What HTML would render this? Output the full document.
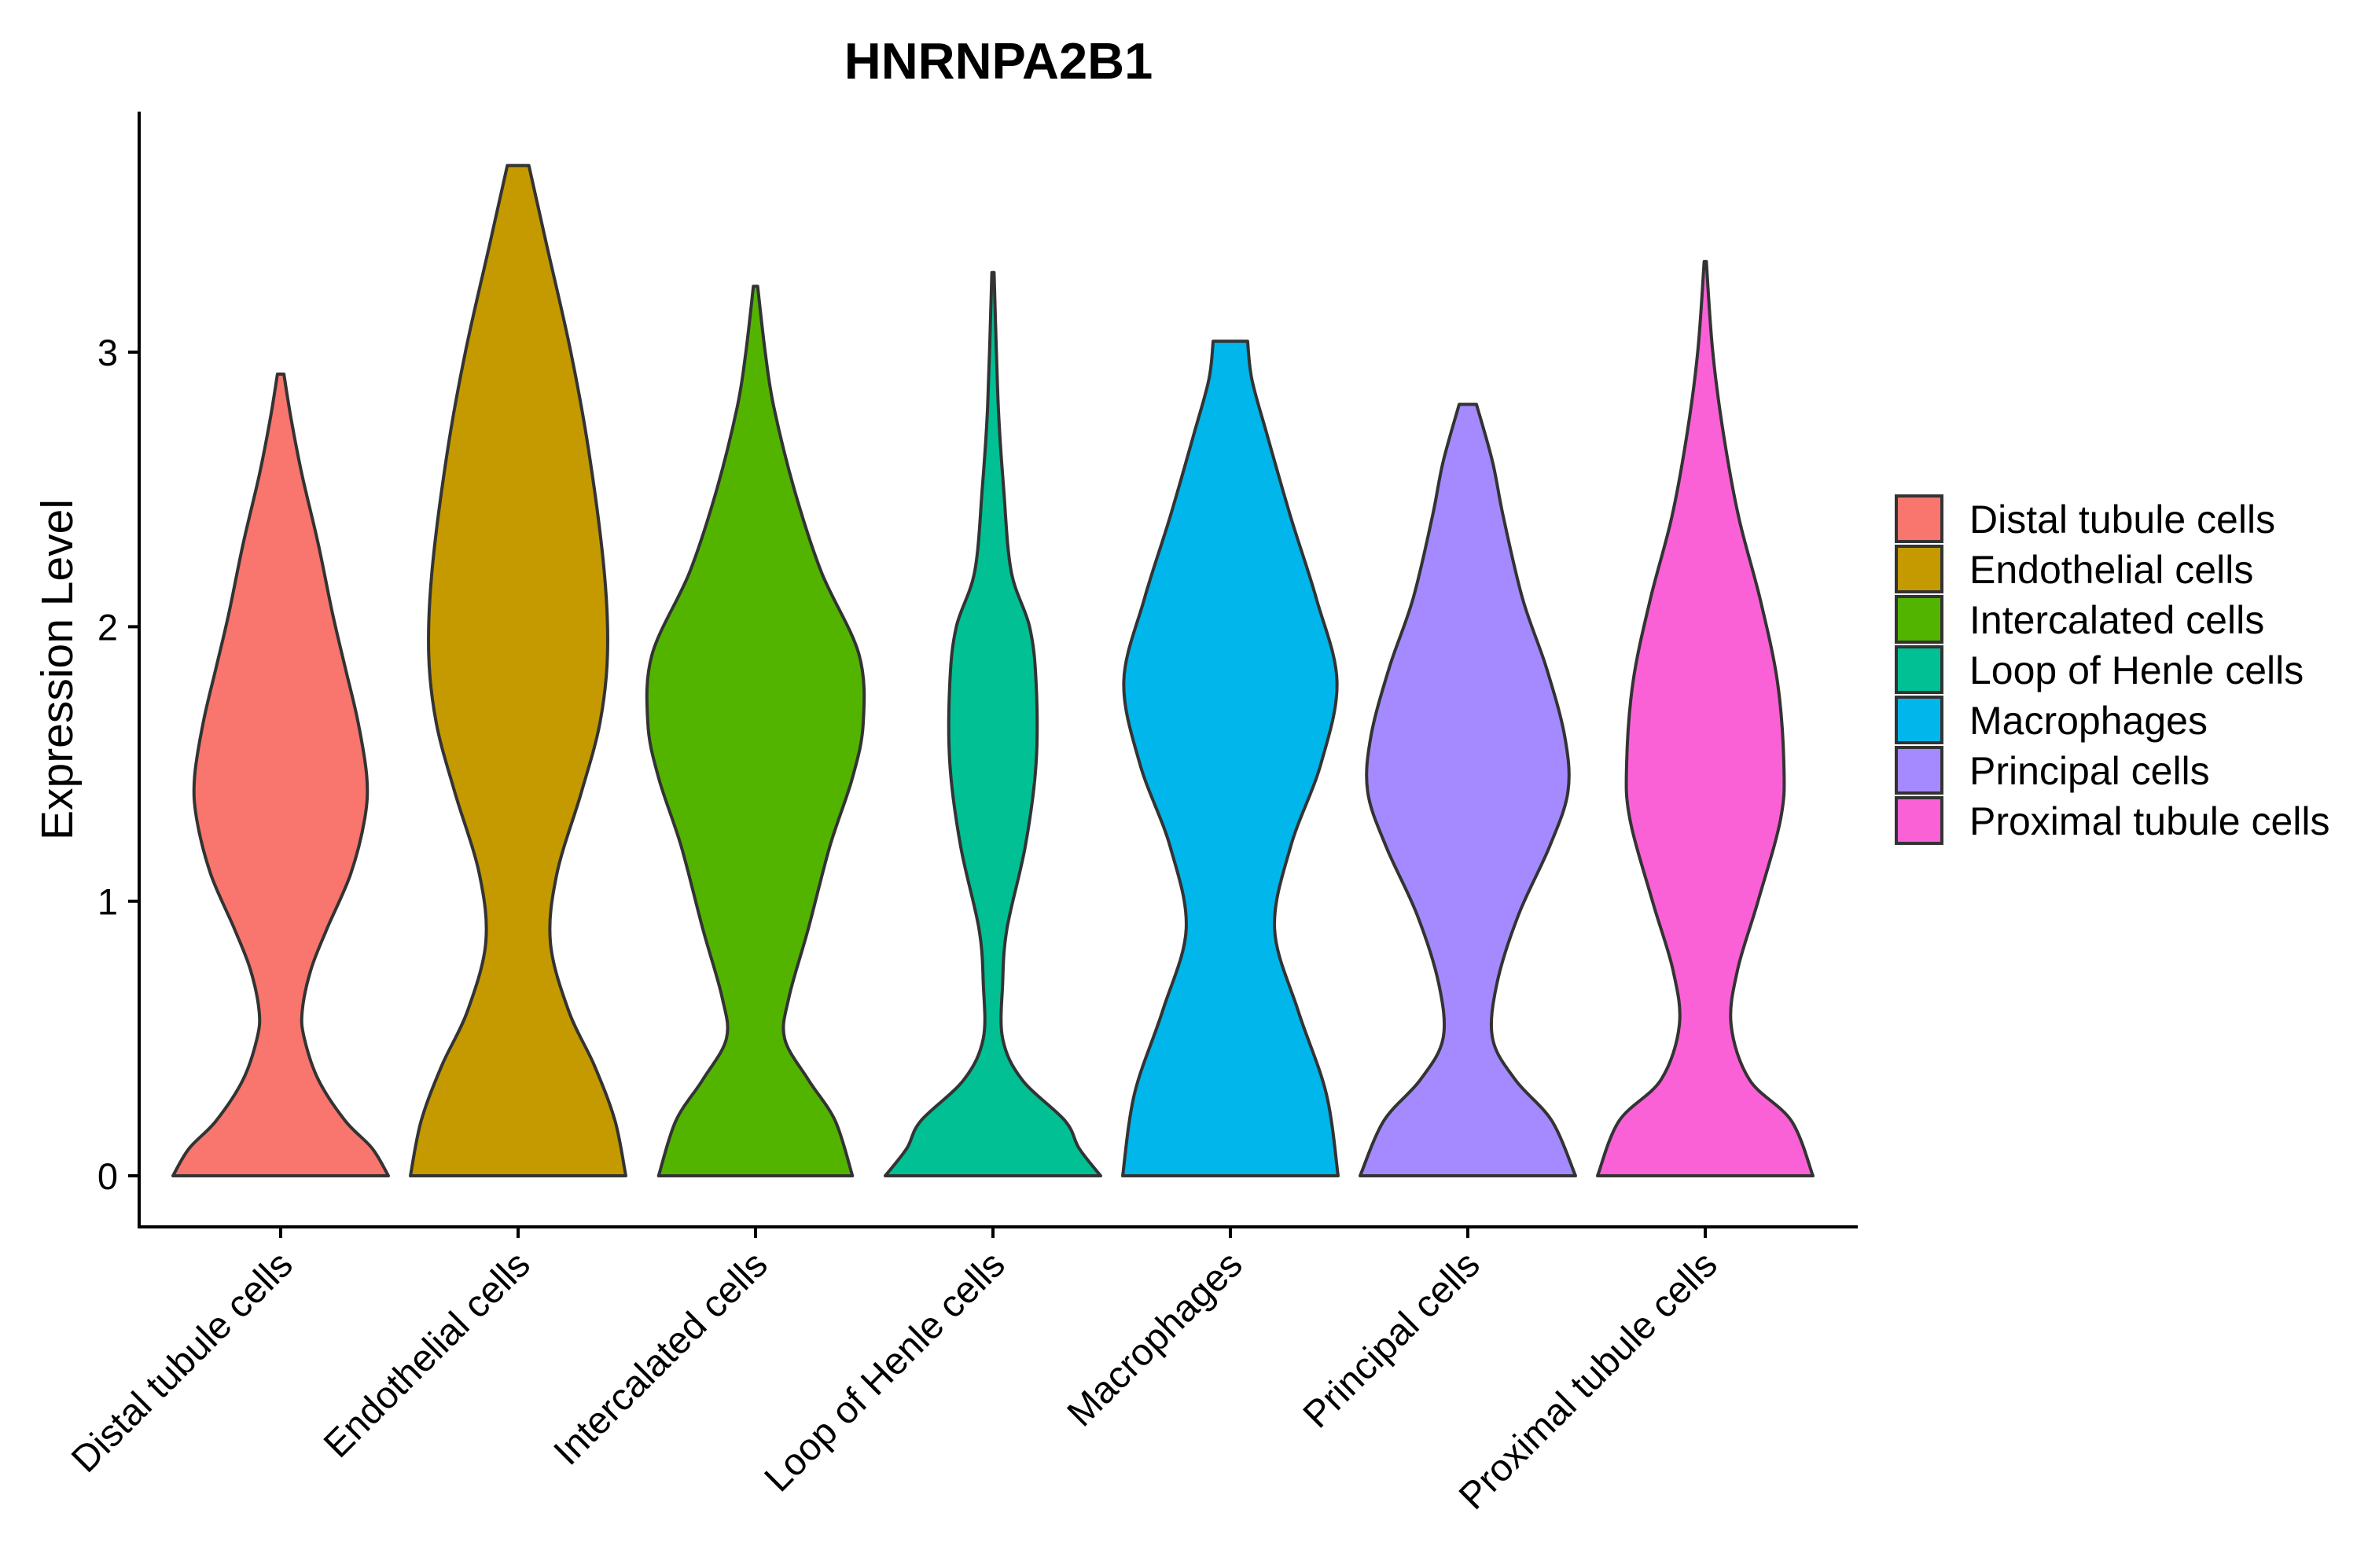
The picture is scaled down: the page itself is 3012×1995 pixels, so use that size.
<!DOCTYPE html>
<html><head><meta charset="utf-8"><style>
html,body{margin:0;padding:0;background:#fff}
svg{display:block}
text{font-family:"Liberation Sans",Arial,sans-serif}
</style></head><body>
<svg id="chart" width="3012" height="1995" viewBox="0 0 3012 1995" xmlns="http://www.w3.org/2000/svg">
<rect width="3012" height="1995" fill="#fff"/>
<text x="1270" y="100" text-anchor="middle" font-size="65" font-weight="bold">HNRNPA2B1</text>
<g id="violins"></g>
<g id="axes"></g>
<g id="legend"></g>
<text transform="translate(92,852) rotate(-90)" text-anchor="middle" font-size="57">Expression Level</text>
</svg>
<script>
const categories = ["Distal tubule cells","Endothelial cells","Intercalated cells","Loop of Henle cells","Macrophages","Principal cells","Proximal tubule cells"];
const colors = ["#F8766D","#C49A00","#53B400","#00C094","#00B6EB","#A58AFF","#FB61D7"];
const yTicks = [0,1,2,3];
const levels = [
 [0,0.1,0.2,0.35,0.5,0.6,0.75,0.9,1.1,1.3,1.45,1.65,1.85,2.05,2.3,2.55,2.75,2.92],
 [0,0.2,0.4,0.6,0.85,1.1,1.4,1.65,1.9,2.2,2.63,3.0,3.4,3.68],
 [0,0.2,0.35,0.5,0.65,0.9,1.2,1.45,1.65,1.9,2.2,2.5,2.8,3.0,3.24],
 [0,0.1,0.2,0.35,0.5,0.7,0.9,1.2,1.5,1.8,2.0,2.2,2.5,2.8,3.29],
 [0,0.3,0.6,0.9,1.2,1.5,1.8,2.1,2.4,2.7,2.9,3.04],
 [0,0.2,0.35,0.5,0.7,0.95,1.2,1.4,1.6,1.85,2.1,2.4,2.6,2.81],
 [0,0.2,0.35,0.55,0.75,1.0,1.3,1.5,1.8,2.1,2.4,2.7,3.0,3.33]
];
const densities = [
 [1.0,0.85,0.6,0.35,0.22,0.2,0.28,0.43,0.65,0.78,0.8,0.72,0.6,0.48,0.35,0.2,0.1,0.03],
 [1.0,0.9,0.71,0.47,0.3,0.36,0.59,0.76,0.83,0.8,0.66,0.49,0.26,0.1],
 [0.9,0.74,0.49,0.27,0.31,0.49,0.69,0.9,1.0,0.96,0.61,0.36,0.17,0.09,0.02],
 [1.0,0.8,0.67,0.27,0.09,0.09,0.13,0.3,0.4,0.4,0.34,0.17,0.1,0.05,0.01],
 [1.0,0.89,0.63,0.41,0.56,0.84,0.99,0.8,0.56,0.34,0.2,0.16],
 [1.0,0.78,0.44,0.23,0.27,0.47,0.76,0.93,0.9,0.73,0.51,0.33,0.23,0.08],
 [1.0,0.8,0.41,0.24,0.3,0.49,0.7,0.73,0.67,0.51,0.31,0.17,0.07,0.01]
];
const NS="http://www.w3.org/2000/svg";
const X0=357, XSTEP=302, HALF=137, Y0=1496, YUNIT=349.3;
const xPos = i => X0 + XSTEP*i;
const yPos = v => Y0 - YUNIT*v;
function mk(tag, attrs, parent){const e=document.createElementNS(NS,tag);for(const k in attrs)e.setAttribute(k,attrs[k]);parent.appendChild(e);return e;}
function smooth(pts){
  let d="";
  for(let i=0;i<pts.length-1;i++){
    const p0=pts[Math.max(0,i-1)],p1=pts[i],p2=pts[i+1],p3=pts[Math.min(pts.length-1,i+2)];
    const c1=[p1[0]+(p2[0]-p0[0])/6,p1[1]+(p2[1]-p0[1])/6];
    const c2=[p2[0]-(p3[0]-p1[0])/6,p2[1]-(p3[1]-p1[1])/6];
    d+=` C${c1[0].toFixed(1)},${c1[1].toFixed(1)} ${c2[0].toFixed(1)},${c2[1].toFixed(1)} ${p2[0].toFixed(1)},${p2[1].toFixed(1)}`;
  }
  return d;
}
const vg=document.getElementById('violins');
categories.forEach((c,i)=>{
  const cx=xPos(i);
  const right=levels[i].map((v,j)=>[cx+HALF*densities[i][j], yPos(v)]);
  const left=levels[i].map((v,j)=>[cx-HALF*densities[i][j], yPos(v)]).reverse();
  let d=`M${right[0][0]},${right[0][1]}`+smooth(right)+` L${left[0][0]},${left[0][1]}`+smooth(left)+" Z";
  const p=mk('path',{d:d,fill:colors[i],stroke:"#333",'stroke-width':4,'stroke-linejoin':'round'},vg);
  
  
});
const ag=document.getElementById('axes');
let l=mk('line',{x1:177,y1:142,x2:177,y2:1563,stroke:"#000",'stroke-width':4},ag);


l=mk('line',{x1:175,y1:1561,x2:2363,y2:1561,stroke:"#000",'stroke-width':4},ag);


yTicks.forEach(t=>{
  const y=yPos(t);
  const tk=mk('line',{x1:163,y1:y,x2:177,y2:y,stroke:"#000",'stroke-width':4},ag);
  
  
  const tx=mk('text',{x:150,y:y+17,'text-anchor':'end','font-size':47},ag);
  tx.textContent=t;
  
  
});
categories.forEach((c,i)=>{
  const x=xPos(i);
  const tk=mk('line',{x1:x,y1:1561,x2:x,y2:1575,stroke:"#000",'stroke-width':4},ag);
  
  
  const tx=mk('text',{transform:`translate(${x+18},${1612}) rotate(-45)`,'text-anchor':'end','font-size':48},ag);
  tx.textContent=c;
  
  
});
const lg=document.getElementById('legend');
categories.forEach((c,i)=>{
  const y=629+64*i;
  const r=mk('rect',{x:2412,y:y+2,width:58,height:58,fill:colors[i],stroke:"#333",'stroke-width':4},lg);
  
  
  const tx=mk('text',{x:2505,y:y+49,'font-size':50},lg);
  tx.textContent=c;
  
  
});
</script>
</body></html>
